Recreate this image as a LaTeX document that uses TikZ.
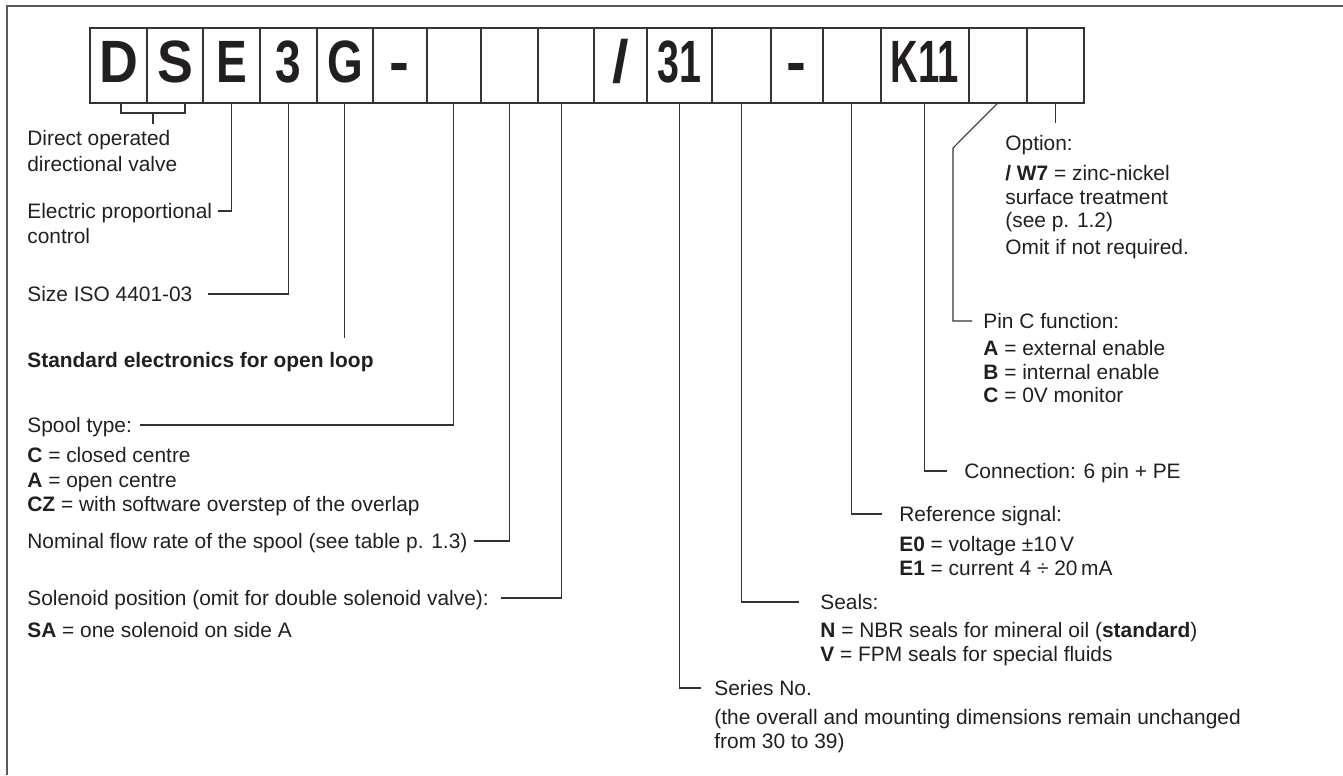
\documentclass[tikz,border=0pt]{standalone}
\usepackage{fontspec}
\setmainfont{Liberation Sans}
\usepackage{graphicx}
\usetikzlibrary{positioning}

\definecolor{ink}{HTML}{231F20}
\definecolor{rule}{HTML}{333333}
\definecolor{framegray}{HTML}{5A5A5A}
\newcommand{\narrow}[2][0.77]{\scalebox{#1}[1]{#2}}

\begin{document}
\begin{tikzpicture}[
    x=0.02cm, y=-0.02cm,
    cell/.style={rectangle, draw=rule, line width=0.8pt, minimum height=1.5cm, inner sep=0pt, outer sep=0pt, text height=0.86cm, text depth=0.17cm, font=\fontsize{34}{34}\selectfont\bfseries, text=ink},
    head/.style={anchor=west, inner sep=0pt, text height=8.5pt, text depth=0pt, font=\fontsize{11.9}{13.4}\selectfont, text=ink},
    list/.style={anchor=north west, inner sep=0pt, align=left, font=\fontsize{11.9}{13.4}\selectfont, text=ink},
    lead/.style={draw=rule, line width=0.6pt, shorten >=0.12cm},
    node distance=0pt
]
\useasboundingbox (0,0) rectangle (1343,775);

% frame (open to the right and bottom)
\draw[framegray, line width=1.1pt] (7,775) -- (7,6) -- (1343,6);

% code boxes
\node[cell, minimum width=1.14cm] (D) at (118.5,65.5) {\narrow[0.9]{D}};
\node[cell, minimum width=1.12cm, right=of D] (S) {\narrow[0.9]{S}};
\node[cell, minimum width=1.14cm, right=of S] (E) {\narrow{E}};
\node[cell, minimum width=1.14cm, right=of E] (size) {\narrow{3}};
\node[cell, minimum width=1.12cm, right=of size] (G) {\narrow{G}};
\node[cell, minimum width=1.08cm, right=of G] (dashA) {-};
\node[cell, minimum width=1.08cm, right=of dashA] (spool) {};
\node[cell, minimum width=1.14cm, right=of spool] (flow) {};
\node[cell, minimum width=1.12cm, right=of flow] (sol) {};
\node[cell, minimum width=1.06cm, right=of sol] (slash) {/};
\node[cell, minimum width=1.30cm, right=of slash] (series) {\narrow[0.66]{31}};
\node[cell, minimum width=1.18cm, right=of series] (seal) {};
\node[cell, minimum width=1.04cm, right=of seal] (dashB) {-};
\node[cell, minimum width=1.16cm, right=of dashB] (signal) {};
\node[cell, minimum width=1.76cm, right=of signal] (conn) {\narrow[0.64]{K11}};
\node[cell, minimum width=1.16cm, right=of conn] (pin) {};
\node[cell, minimum width=1.14cm, right=of pin] (opt) {};

% left column
\node[head] (direct) at (27,138) {Direct operated};
\node[list] (directb) at ([yshift=-0.21cm]direct.south west) {directional valve};
\node[head] (electric) at (27,211) {Electric proportional};
\node[list] (electricb) at ([yshift=-0.19cm]electric.south west) {control};
\node[head] (sizetxt) at (27,294) {Size ISO 4401-03};
\node[head, font=\fontsize{11.9}{13.4}\selectfont\bfseries] (std) at (27,360) {Standard electronics for open loop};
\node[head] (spooltxt) at (27,425) {Spool type:};
\node[list, font=\fontsize{11.9}{13.9}\selectfont] (spoollist) at ([yshift=-0.29cm]spooltxt.south west) {\textbf{C} = closed centre\\\textbf{A} = open centre\\\textbf{CZ} = with software overstep of the overlap};
\node[head] (flowtxt) at (27,541) {Nominal flow rate of the spool (see table p. 1.3)};
\node[head] (soltxt) at (27,598) {Solenoid position (omit for double solenoid valve):};
\node[list] (sollist) at ([yshift=-0.33cm]soltxt.south west) {\textbf{SA} = one solenoid on side A};

% right column
\node[head] (opttxt) at (1005,143) {Option:};
\node[list] (optlist) at ([yshift=-0.29cm]opttxt.south west) {\textbf{/ W7} = zinc-nickel\\surface treatment\\(see p. 1.2)\\[0.06cm]Omit if not required.};
\node[head] (pintxt) at (983,321) {Pin C function:};
\node[list] (pinlist) at ([yshift=-0.23cm]pintxt.south west) {\textbf{A} = external enable\\\textbf{B} = internal enable\\\textbf{C} = 0V monitor};
\node[head] (conntxt) at (964,471) {Connection: 6 pin + PE};
\node[head] (signaltxt) at (899,514) {Reference signal:};
\node[list] (signallist) at ([yshift=-0.29cm]signaltxt.south west) {\textbf{E0} = voltage ±10\,V\\\textbf{E1} = current 4 ÷ 20\,mA};
\node[head] (sealtxt) at (820,602) {Seals:};
\node[list] (seallist) at ([yshift=-0.25cm]sealtxt.south west) {\textbf{N} = NBR seals for mineral oil (\textbf{standard})\\\textbf{V} = FPM seals for special fluids};
\node[head] (seriestxt) at (714,688) {Series No.};
\node[list] (serieslist) at ([yshift=-0.27cm]seriestxt.south west) {(the overall and mounting dimensions remain unchanged\\from 30 to 39)};

% leaders
\coordinate (dsmid) at (153,113);
\draw[lead, shorten >=0pt] ([xshift=0.05cm]D.south) |- (dsmid) -| ([xshift=0.2cm]S.south);
\draw[lead] (dsmid) -- (dsmid |- direct.north);
\draw[lead] (E.south) |- (electric.east);
\draw[lead, shorten >=0.3cm] (size.south) |- (sizetxt.east);
\draw[lead, shorten >=0.28cm] (G.south) -- (G.south |- std.north);
\draw[lead, shorten >=0.16cm] (spool.south) |- (spooltxt.east);
\draw[lead] (flow.south) |- (flowtxt.east);
\draw[lead, shorten >=0.24cm] ([xshift=-0.08cm]sol.south) |- (soltxt.east);
\draw[lead, shorten >=0.26cm] (series.south) |- (seriestxt.west);
\draw[lead, shorten >=0.42cm] (seal.south) |- (sealtxt.west);
\draw[lead, shorten >=0.34cm] (signal.south) |- (signaltxt.west);
\draw[lead, shorten >=0.34cm] (conn.south) |- (conntxt.west);
\coordinate (pinbend) at (953,148);
\draw[lead, shorten >=0.22cm] (pin.south) -- (pinbend) |- (pintxt.west);
\draw[lead, shorten >=0.24cm] (opt.south) -- (opt.south |- opttxt.north);

\end{tikzpicture}
\end{document}
